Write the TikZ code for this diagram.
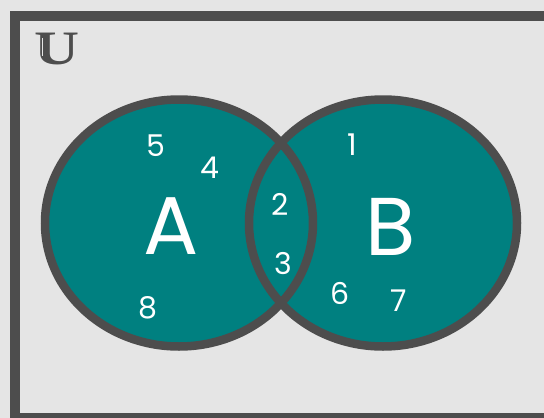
\documentclass[tikz,border=0pt]{standalone}
\usepackage{fontspec}
\setmainfont{Poppins}
\newfontfamily\uniffont{Liberation Serif}
\usepackage{tikz}
\definecolor{bgcolor}{RGB}{229,229,229}
\definecolor{setcolor}{RGB}{0,128,128}
\definecolor{edgecolor}{RGB}{77,77,77}
\tikzset{
  setfill/.style={fill=setcolor},
  setedge/.style={draw=edgecolor, line width=8.5pt},
  setname/.style={inner sep=0pt, text=white, font=\fontsize{82pt}{82pt}\selectfont},
  elem/.style={inner sep=0pt, text=white, font=\fontsize{30pt}{30pt}\selectfont},
}

\begin{document}
\begin{tikzpicture}[x=1pt, y=-1pt]

%% ── page and universe frame ──────────────────────────────────────
\useasboundingbox (0,0) rectangle (544,418);
\fill[bgcolor] (0,0) rectangle (544,418);
\begin{scope}
  \clip (0,0) rectangle (544,418);
  \draw[edgecolor, line width=10pt] (15,16) rectangle (549.5,418);
\end{scope}
\node[inner sep=0pt, text=edgecolor, xscale=1.3,
      font=\uniffont\bfseries\fontsize{48pt}{48pt}\selectfont]
  (universe) at (57,49) {U};
% double stroke in the left stem
\draw[bgcolor, line width=1.5pt] ([xshift=8.5pt, yshift=-5pt]universe.north west)
  -- ([xshift=8.5pt, yshift=9pt]universe.south west);

%% ── the two sets: fill first, then both outlines ─────────────────
\foreach \cx in {179, 383}
  \fill[setfill] (\cx,223) ellipse [x radius=134, y radius=123.5];
\foreach \cx in {179, 383}
  \draw[setedge] (\cx,223) ellipse [x radius=134, y radius=123.5];

%% ── set names ────────────────────────────────────────────────────
\node[setname] (nameA) at (171,226) {A};
\node[setname] (nameB) at (391,227) {B};

%% ── elements ─────────────────────────────────────────────────────
\foreach \n/\x/\y in {5/156/146, 4/210/168, 8/148/308, 2/280/204,
                      3/283/264, 1/352/145, 6/340/293, 7/399/301}
  \node[elem] (elem\n) at (\x,\y) {\n};

\end{tikzpicture}
\end{document}
